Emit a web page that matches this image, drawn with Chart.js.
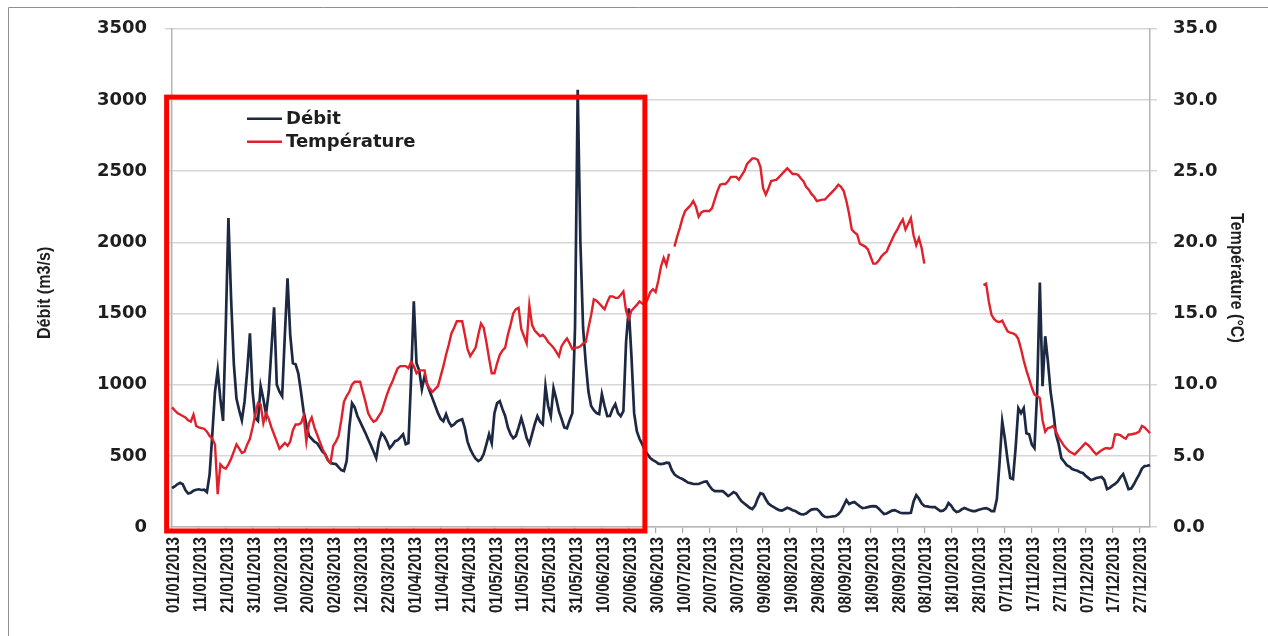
<!DOCTYPE html>
<html>
<head>
<meta charset="utf-8">
<script src="https://cdn.jsdelivr.net/npm/chart.js@4.4.1/dist/chart.umd.min.js"></script>
<style>
  html, body { margin: 0; padding: 0; background: #ffffff; }
  #wrap { width: 1268px; height: 636px; position: relative; }
</style>
</head>
<body>
<div id="wrap"><canvas id="chart" width="1268" height="636"></canvas></div>
<script>
// Daily river discharge (m3/s) and water temperature (°C), year 2013.
const year = 2013;
const monthLengths = [31, 28, 31, 30, 31, 30, 31, 31, 30, 31, 30, 31];

const debitJan = [273,285,300,310,300,260,235,240,255,262,265,260,262,245,370,650,950,1100,900,745,1400,2170,1600,1150,900,820,750,880,1100,1360,950];
const debitFeb = [765,745,990,900,793,950,1250,1543,1000,950,919,1350,1747,1350,1150,1143,1080,950,810,720,640,620,600,589,560,530,512,470];
const debitMar = [449,445,442,420,400,393,463,700,870,840,780,740,700,660,617,575,530,484,600,659,638,600,554,575,603,610,630,652,582,590,1050];
const debitApr = [1585,1150,1100,968,1060,1000,950,900,850,800,760,743,793,740,708,720,740,750,757,694,600,547,510,480,463,475,512,580,652,589];
const debitMay = [800,870,884,828,780,700,652,624,640,700,765,700,624,582,650,722,779,740,722,989,850,779,975,900,814,760,700,694,750,800,1400];
const debitJun = [3072,2000,1400,1150,950,850,820,800,793,933,850,779,780,830,863,800,779,814,1300,1536,1200,800,673,620,582,540,510,484,470,460];
const debitJul = [445,442,445,452,450,400,370,355,345,337,325,312,308,302,302,302,310,318,320,290,265,252,252,252,252,235,217,230,245,235,205];
const debitAug = [180,165,150,135,126,150,200,238,231,195,165,150,140,128,118,115,125,135,128,118,112,100,90,88,95,110,122,126,126,110,85];
const debitSep = [72,70,72,75,77,90,112,150,189,161,170,175,160,145,133,135,140,145,147,145,130,110,91,95,105,115,119,110,100,98];
const debitOct = [98,98,100,180,224,200,165,147,145,142,140,140,125,112,115,130,168,150,120,105,110,125,133,125,118,112,112,120,125,130,133];
const debitNov = [125,112,112,196,450,743,620,470,344,337,560,835,800,835,659,652,580,554,950,1718,989,1340,1164,950,814,650,582,484,460,435];
const debitDec = [425,407,400,395,385,379,360,345,330,335,344,348,351,330,266,275,290,302,320,350,372,320,266,270,300,337,370,410,428,430,435];

const tempJan = [8.4,8.2,8.0,7.9,7.8,7.7,7.5,7.4,7.9,7.1,7.0,6.95,6.9,6.7,6.4,6.2,5.8,2.3,4.4,4.2,4.1,4.4,4.8,5.3,5.8,5.5,5.2,5.3,5.8,6.2,7.0];
const tempFeb = [7.9,8.7,8.6,7.3,8.0,7.6,7.0,6.5,6.0,5.5,5.7,5.9,5.7,6.0,6.8,7.2,7.2,7.3,7.8,6.0,7.3,7.7,7.0,6.5,6.0,5.5,5.1,4.7];
const tempMar = [4.5,5.7,6.0,6.4,7.5,8.8,9.2,9.5,10.0,10.2,10.2,10.2,9.5,8.8,8.0,7.65,7.4,7.5,7.8,8.1,8.7,9.3,9.8,10.2,10.7,11.15,11.3,11.3,11.3,11.15,11.6];
const tempApr = [11.3,10.8,11.0,11.0,11.0,10.0,9.7,9.5,9.7,9.9,10.6,11.3,12.1,12.8,13.6,14.0,14.45,14.45,14.45,13.5,12.5,12.0,12.3,12.6,13.5,14.3,14.0,13.0,11.85,10.8];
const tempMay = [10.8,11.5,12.1,12.4,12.6,13.5,14.2,15.0,15.3,15.4,13.9,13.4,12.9,15.6,14.2,13.8,13.6,13.4,13.5,13.3,13.0,12.8,12.6,12.3,12.0,12.7,13.0,13.25,12.9,12.5,12.6];
const tempJun = [12.6,12.7,12.9,13.0,14.0,14.9,16.0,15.9,15.7,15.5,15.3,15.8,16.2,16.2,16.1,16.1,16.3,16.55,15.2,14.65,15.2,15.4,15.6,15.85,15.7,15.6,16.0,16.5,16.7,16.5];
const tempJul = [17.3,18.3,18.9,18.4,19.2,null,19.7,20.4,21.0,21.7,22.2,22.4,22.6,22.9,22.5,21.8,22.1,22.2,22.2,22.2,22.4,23.0,23.6,24.05,24.1,24.1,24.3,24.6,24.6,24.6,24.4];
const tempAug = [24.7,25.0,25.5,25.7,25.9,25.9,25.8,25.3,23.8,23.35,23.8,24.3,24.35,24.4,24.6,24.8,25.0,25.2,25.0,24.8,24.8,24.75,24.5,24.3,23.9,23.7,23.4,23.2,22.9,22.95,23.0];
const tempSep = [23.0,23.2,23.4,23.6,23.8,24.05,23.9,23.6,22.9,22.0,20.9,20.7,20.55,19.9,19.8,19.7,19.5,19.0,18.5,18.5,18.7,19.0,19.2,19.35,19.8,20.2,20.6,20.9,21.3,21.6];
const tempOct = [20.9,21.3,21.7,20.5,19.8,20.3,19.6,18.5,null,null,null,null,null,null,null,null,null,null,null,null,null,null,null,null,null,null,null,null,null,17.0,17.1];
const tempNov = [15.85,14.9,14.6,14.45,14.4,14.5,14.1,13.75,13.65,13.6,13.5,13.2,12.5,11.7,11.0,10.4,9.8,9.3,9.2,9.05,7.5,6.7,6.95,7.0,7.1,6.7,6.3,6.0,5.7,5.5];
const tempDec = [5.3,5.2,5.1,5.3,5.5,5.7,5.9,5.75,5.55,5.3,5.1,5.25,5.4,5.5,5.55,5.5,5.6,6.5,6.5,6.45,6.3,6.2,6.5,6.5,6.55,6.6,6.7,7.1,7.0,6.8,6.6];

const debit = [].concat(debitJan, debitFeb, debitMar, debitApr, debitMay, debitJun,
                        debitJul, debitAug, debitSep, debitOct, debitNov, debitDec);
const temperature = [].concat(tempJan, tempFeb, tempMar, tempApr, tempMay, tempJun,
                              tempJul, tempAug, tempSep, tempOct, tempNov, tempDec);

// Category labels dd/mm/yyyy, one per day; every tenth day is labelled.
const pad2 = n => String(n).padStart(2, '0');
const dayLabels = [];
monthLengths.forEach((len, m) => {
  for (let d = 1; d <= len; d++) dayLabels.push(pad2(d) + '/' + pad2(m + 1) + '/' + year);
});
const labelEvery = 10;

// Left and right axis ranges.
const debitTicks = { min: 0, max: 3500, step: 500 };
const tempTicks = { min: 0, max: 35, step: 5 };

// Highlighted period (first half of the year), in day index / m3/s units.
const highlight = { fromDay: -2, toDay: 176, fromDebit: -28, toDebit: 3020 };

const numFont = "'DejaVu Sans', Verdana, sans-serif";
const narrowFont = "'Liberation Sans', Arial, sans-serif";
const narrowScale = 0.82;   // horizontal squeeze giving a narrow face
const textColor = '#1e1e1e';
const gridColor = '#d6d6d6';
const axisColor = '#b5b5b5';
const debitColor = '#1d2942';
const tempColor = '#e0202a';

// Draws text squeezed along its own direction.
function narrowText(ctx, text, x, y, angle, align, squeeze) {
  ctx.save();
  ctx.translate(x, y);
  ctx.rotate(angle);
  ctx.scale(squeeze, 1);
  ctx.textAlign = align;
  ctx.fillText(text, 0, 0);
  ctx.restore();
}

const framePlugin = {
  id: 'frame',
  beforeDraw(chart) {
    const ctx = chart.ctx;
    ctx.save();
    ctx.fillStyle = '#ffffff';
    ctx.fillRect(0, 0, chart.width, chart.height);
    ctx.strokeStyle = '#8f8f8f';
    ctx.lineWidth = 1;
    ctx.beginPath();
    ctx.moveTo(8.5, chart.height);
    ctx.lineTo(8.5, 7.5);
    ctx.lineTo(chart.width, 7.5);
    ctx.stroke();
    ctx.restore();
  }
};

const dateLabelPlugin = {
  id: 'dateLabels',
  afterDraw(chart) {
    const xs = chart.scales.x;
    const area = chart.chartArea;
    const ctx = chart.ctx;
    ctx.save();
    ctx.fillStyle = textColor;
    ctx.font = "bold 18.5px " + narrowFont;
    ctx.textBaseline = 'middle';
    dayLabels.forEach((lab, i) => {
      if (i % labelEvery !== 0) return;
      const x = xs.getPixelForValue(i) + 2;
      narrowText(ctx, lab, x, area.bottom + 10, -Math.PI / 2, 'right', narrowScale);
    });
    ctx.restore();
  }
};

const axisTitlePlugin = {
  id: 'axisTitles',
  afterDraw(chart) {
    const ctx = chart.ctx;
    const area = chart.chartArea;
    const midY = (area.top + area.bottom) / 2;
    ctx.save();
    ctx.fillStyle = textColor;
    ctx.font = "bold 19px " + narrowFont;
    ctx.textBaseline = 'middle';
    narrowText(ctx, 'Débit (m3/s)', 45, midY + 15, -Math.PI / 2, 'center', 0.85);
    narrowText(ctx, 'Température (°C)', 1236, midY, Math.PI / 2, 'center', 0.85);
    ctx.restore();
  }
};

const insideLegendPlugin = {
  id: 'insideLegend',
  afterDraw(chart) {
    const ctx = chart.ctx;
    const area = chart.chartArea;
    const x0 = area.left + 75;
    const lineLen = 35;
    const rows = [area.top + 90, area.top + 113];
    ctx.save();
    ctx.font = "bold 18px " + numFont;
    ctx.textBaseline = 'middle';
    ctx.textAlign = 'left';
    chart.data.datasets.forEach((ds, i) => {
      const y = rows[i];
      ctx.strokeStyle = ds.borderColor;
      ctx.lineWidth = 2.5;
      ctx.beginPath();
      ctx.moveTo(x0, y);
      ctx.lineTo(x0 + lineLen, y);
      ctx.stroke();
      ctx.fillStyle = textColor;
      ctx.fillText(ds.label, x0 + lineLen + 4, y + 1);
    });
    ctx.restore();
  }
};

const highlightPlugin = {
  id: 'highlightBox',
  afterDraw(chart) {
    const xs = chart.scales.x, ys = chart.scales.y;
    const x1 = xs.getPixelForValue(highlight.fromDay);
    const x2 = xs.getPixelForValue(highlight.toDay);
    const y1 = ys.getPixelForValue(highlight.toDebit);
    const y2 = ys.getPixelForValue(highlight.fromDebit);
    const ctx = chart.ctx;
    ctx.save();
    ctx.strokeStyle = '#ff0000';
    ctx.lineWidth = 5;
    ctx.lineJoin = 'miter';
    ctx.strokeRect(x1, y1, x2 - x1, y2 - y1);
    ctx.restore();
  }
};

new Chart(document.getElementById('chart'), {
  type: 'line',
  data: {
    labels: dayLabels,
    datasets: [
      {
        label: 'Débit',
        data: debit,
        yAxisID: 'y',
        borderColor: debitColor,
        borderWidth: 2.7,
        pointRadius: 0,
        tension: 0,
        order: 2
      },
      {
        label: 'Température',
        data: temperature,
        yAxisID: 'y1',
        borderColor: tempColor,
        borderWidth: 2.4,
        pointRadius: 0,
        tension: 0,
        spanGaps: false,
        order: 1
      }
    ]
  },
  options: {
    responsive: false,
    animation: false,
    devicePixelRatio: 1,
    layout: { padding: { top: 26, left: 10, right: 10, bottom: 0 } },
    plugins: {
      legend: { display: false },
      tooltip: { enabled: false }
    },
    scales: {
      x: {
        type: 'category',
        offset: false,
        afterFit(s) { s.height = 109; },
        grid: {
          drawOnChartArea: false,
          drawTicks: true,
          tickLength: 6,
          lineWidth: 1.2,
          color: ctx => (ctx.index % labelEvery === 0 ? '#a8a8a8' : 'rgba(0,0,0,0)')
        },
        border: { display: true, color: axisColor, width: 1.5 },
        ticks: { display: false, autoSkip: false }
      },
      y: {
        position: 'left',
        min: debitTicks.min,
        max: debitTicks.max,
        afterFit(s) { s.width = 162; },
        grid: { color: gridColor, lineWidth: 1.5, tickLength: 7, drawTicks: true },
        border: { display: true, color: axisColor, width: 1.5 },
        ticks: {
          stepSize: debitTicks.step,
          padding: 18,
          color: textColor,
          font: { family: numFont, size: 18, weight: 'bold' },
          callback: v => String(v)
        }
      },
      y1: {
        position: 'right',
        min: tempTicks.min,
        max: tempTicks.max,
        afterFit(s) { s.width = 108; },
        grid: { drawOnChartArea: false, color: gridColor, lineWidth: 1.5, tickLength: 7, drawTicks: true },
        border: { display: true, color: axisColor, width: 1.5 },
        ticks: {
          stepSize: tempTicks.step,
          padding: 16,
          color: textColor,
          font: { family: numFont, size: 18, weight: 'bold' },
          callback: v => Number(v).toFixed(1)
        }
      }
    }
  },
  plugins: [framePlugin, dateLabelPlugin, axisTitlePlugin, insideLegendPlugin, highlightPlugin]
});
</script>
</body>
</html>
